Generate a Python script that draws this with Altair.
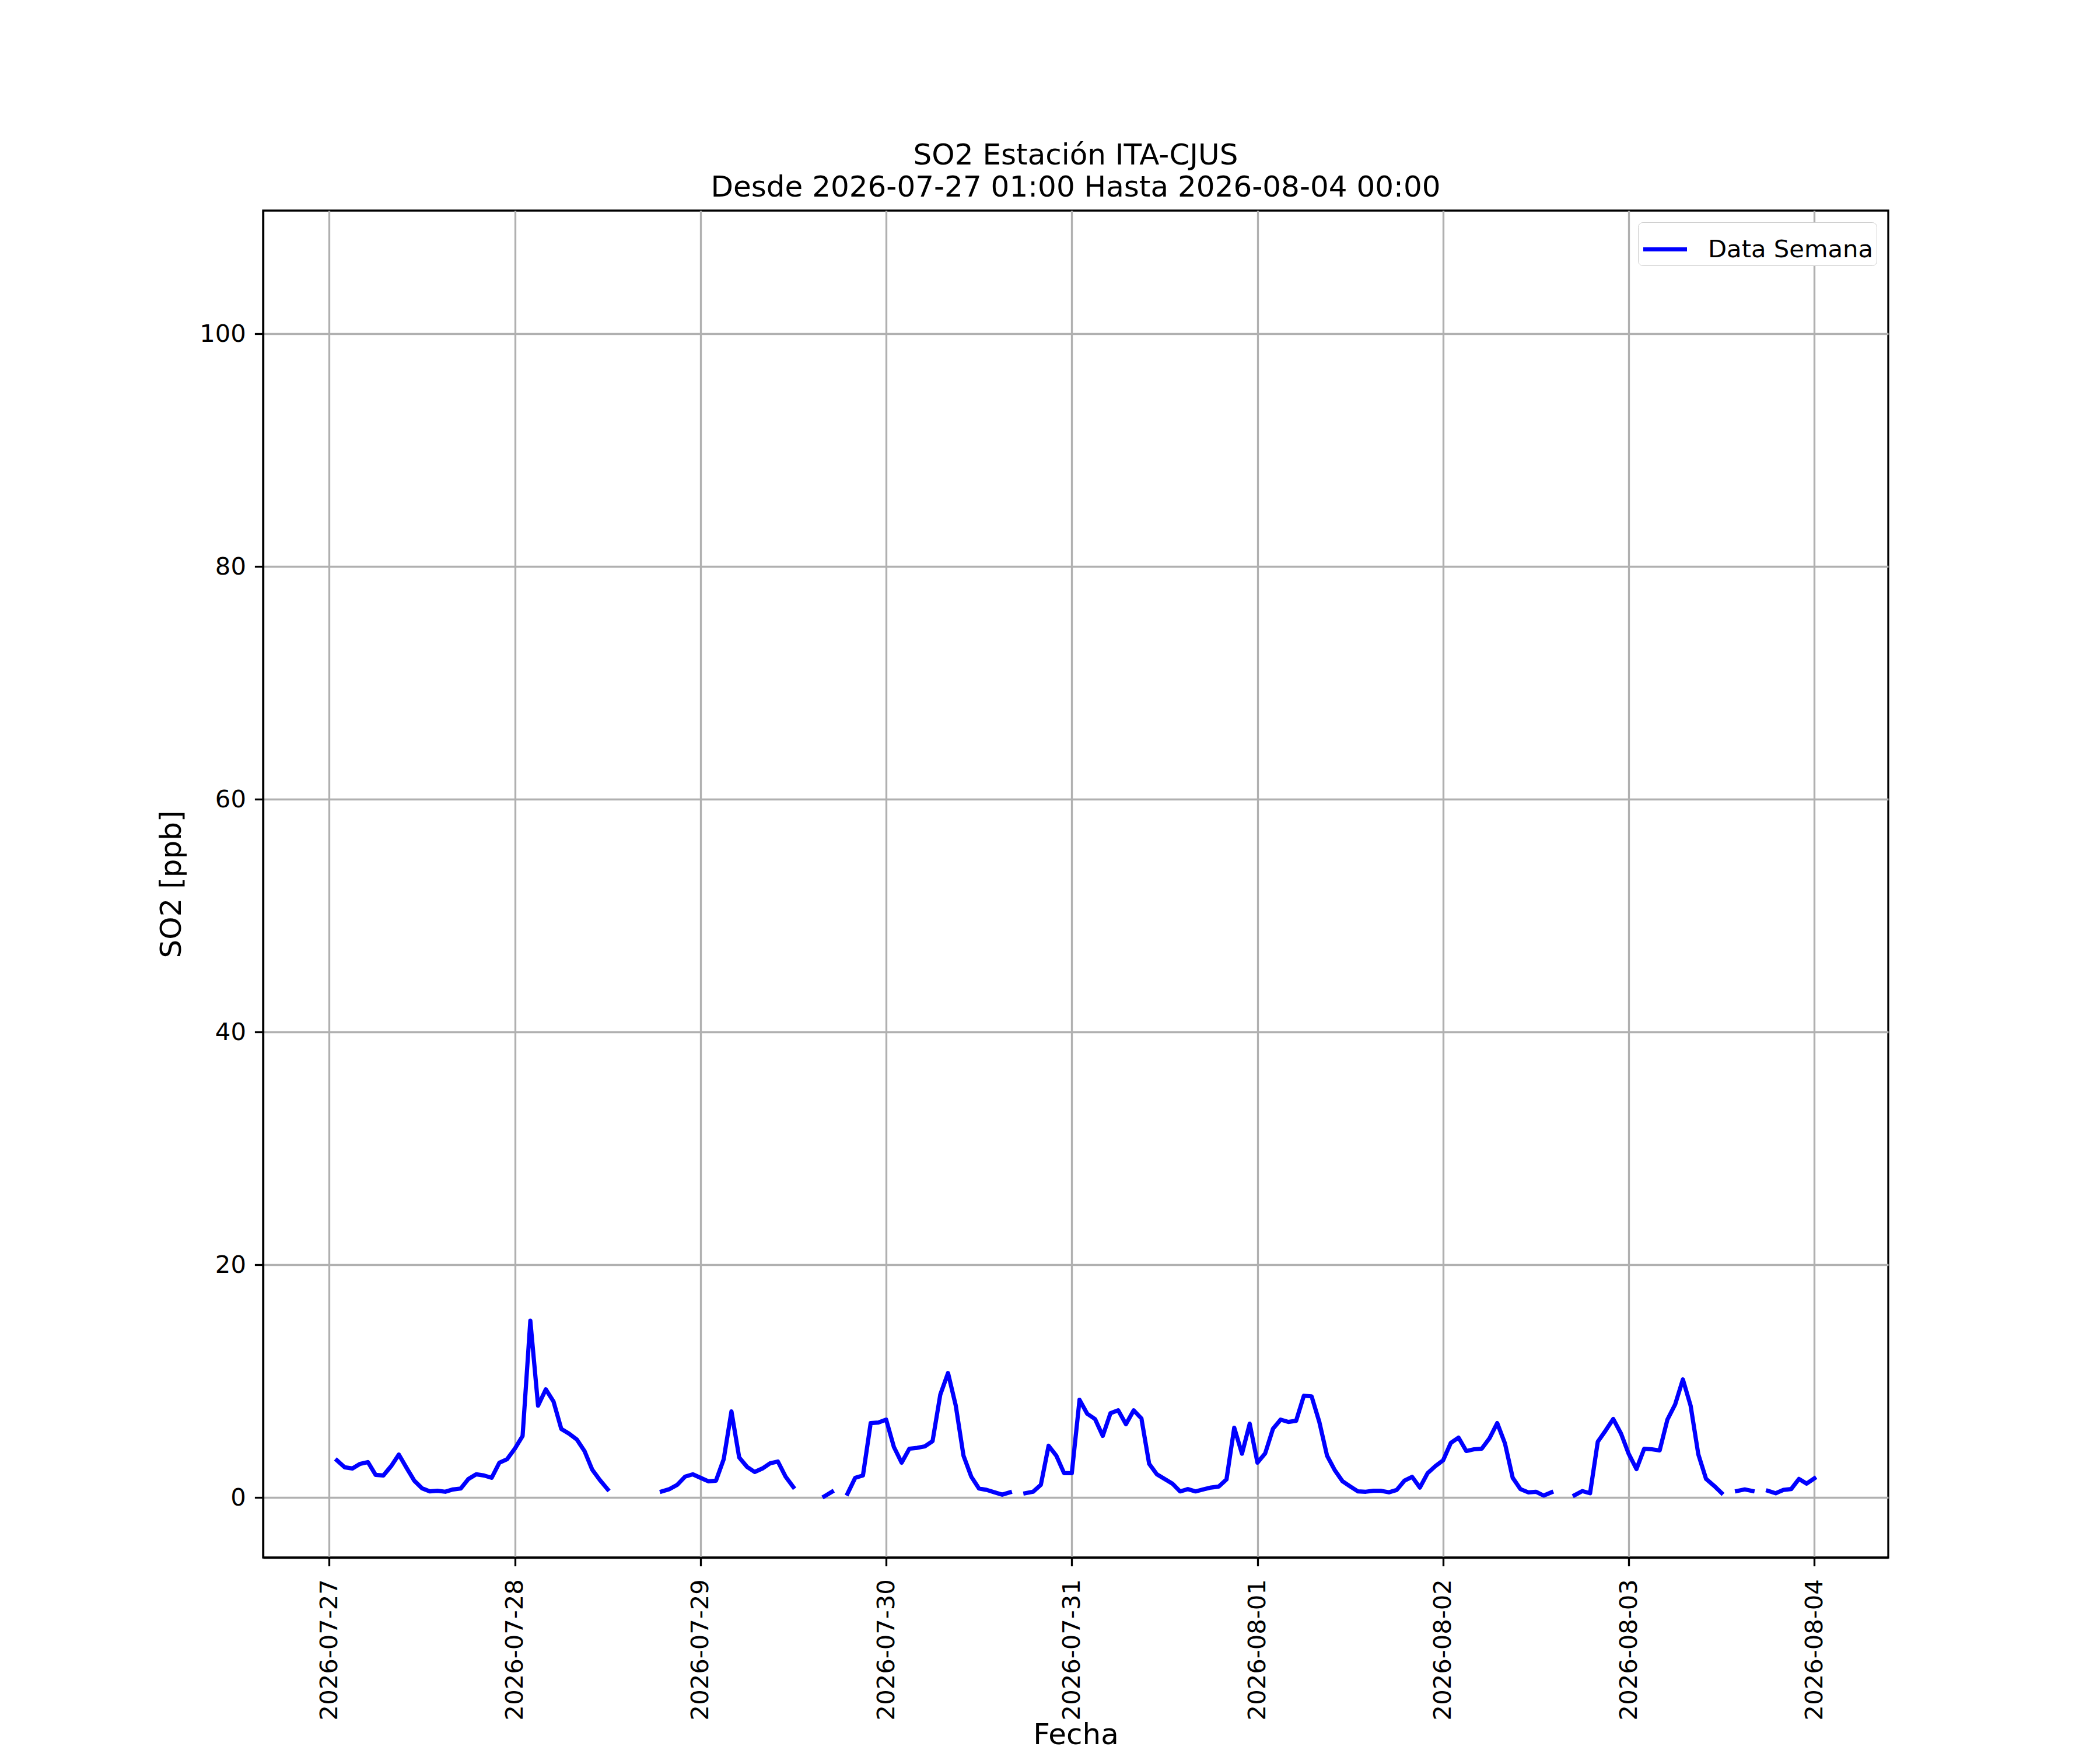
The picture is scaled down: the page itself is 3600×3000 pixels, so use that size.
import altair as alt
import pandas as pd
import numpy as np

# Hourly SO2 values [ppb], 24 per day (01:00 .. 24:00), None = missing
day_0727 = [3.2, 2.6, 2.5, 2.9, 3.05, 1.95, 1.9, 2.7, 3.7, 2.55, 1.45, 0.8,
            0.53, 0.58, 0.5, 0.7, 0.78, 1.6, 2.0, 1.9, 1.7, 3.0, 3.3, 4.2]
day_0728 = [5.3, 15.2, 7.9, 9.3, 8.25, 5.9, 5.5, 5.0, 4.0, 2.4, 1.5, 0.7,
            None, None, None, None, None, None, 0.53, 0.73, 1.1, 1.8, 2.0, 1.7]
day_0729 = [1.4, 1.45, 3.3, 7.4, 3.45, 2.65, 2.2, 2.5, 2.95, 3.1, 1.8, 0.9,
            None, None, None, 0.1, 0.5, None, 0.33, 1.7, 1.9, 6.4, 6.45, 6.7]
day_0730 = [4.35, 3.0, 4.2, 4.27, 4.4, 4.85, 8.85, 10.7, 7.9, 3.6, 1.8, 0.78,
            0.66, 0.45, 0.25, 0.45, None, 0.37, 0.5, 1.1, 4.45, 3.6, 2.1, 2.1]
day_0731 = [8.4, 7.2, 6.75, 5.3, 7.25, 7.5, 6.3, 7.5, 6.8, 2.9, 2.0, 1.6,
            1.2, 0.53, 0.73, 0.53, 0.7, 0.86, 0.95, 1.56, 6.0, 3.77, 6.35, 3.0]
day_0801 = [3.8, 5.9, 6.7, 6.5, 6.6, 8.75, 8.7, 6.5, 3.6, 2.35, 1.4, 0.95,
            0.53, 0.5, 0.58, 0.58, 0.45, 0.65, 1.45, 1.78, 0.86, 2.1, 2.7, 3.2]
day_0802 = [4.7, 5.15, 4.0, 4.15, 4.2, 5.1, 6.4, 4.65, 1.7, 0.73, 0.45, 0.5,
            0.17, 0.45, None, None, 0.2, 0.56, 0.37, 4.8, 5.75, 6.75, 5.5, 3.75]
day_0803 = [2.45, 4.2, 4.15, 4.05, 6.7, 8.0, 10.15, 7.9, 3.7, 1.6, 1.03, 0.4,
            None, 0.56, 0.7, 0.56, None, 0.58, 0.37, 0.66, 0.73, 1.6, 1.2, 1.65]

start_time = "2026-07-27 01:00"
day_ticks = ["2026-07-27", "2026-07-28", "2026-07-29", "2026-07-30", "2026-07-31",
             "2026-08-01", "2026-08-02", "2026-08-03", "2026-08-04"]
y_ticks = [0, 20, 40, 60, 80, 100]
series_name = "Data Semana"
title_lines = ["SO2 Estación ITA-CJUS", "Desde 2026-07-27 01:00 Hasta 2026-08-04 00:00"]

values = (day_0727 + day_0728 + day_0729 + day_0730 + day_0731 +
          day_0801 + day_0802 + day_0803)
times = pd.date_range(start_time, periods=len(values), freq="h")

df = pd.DataFrame({"t": times, "v": pd.array(values, dtype="Float64")})
missing = df["v"].isna()
df["seg"] = missing.cumsum()
df = df[~missing].copy()
df["v"] = df["v"].astype(float)
df["t"] = df["t"].dt.strftime("%Y-%m-%dT%H:%M:%S")
df["serie"] = series_name

FONT = "DejaVu Sans"
tick_vals = [alt.DateTime(year=int(d[:4]), month=int(d[5:7]), date=int(d[8:10])) for d in day_ticks]

PW, PH = 2786, 2309

chart = alt.Chart(df).mark_line(strokeWidth=7.2, strokeCap="square", strokeJoin="round").encode(
    x=alt.X("t:T",
            scale=alt.Scale(domain=[alt.DateTime(year=2026, month=7, date=26, hours=15, minutes=27),
                                    alt.DateTime(year=2026, month=8, date=4, hours=9, minutes=33)],
                            nice=False),
            axis=alt.Axis(values=tick_vals, format="%Y-%m-%d", labelAngle=270,
                          labelAlign="right", labelBaseline="middle",
                          labelFontSize=41.7, labelFont=FONT, labelColor="black",
                          labelPadding=22, labelOverlap=False, labelFlush=False,
                          labelLimit=1000,
                          tickSize=14.6, tickWidth=3.3, tickColor="black",
                          domainColor="black", domainWidth=3.3,
                          grid=True, gridColor="#b0b0b0", gridWidth=3.3,
                          title="Fecha", titleFont=FONT, titleFontSize=50,
                          titleFontWeight="normal", titleColor="black",
                          titleX=PW / 2, titleY=304, titleAlign="center",
                          titleBaseline="middle")),
    y=alt.Y("v:Q",
            scale=alt.Scale(domain=[-5.15, 110.6], nice=False, zero=False),
            axis=alt.Axis(values=y_ticks, labelFontSize=41.7, labelFont=FONT,
                          labelColor="black", labelPadding=15,
                          tickSize=14.6, tickWidth=3.3, tickColor="black",
                          domainColor="black", domainWidth=3.3,
                          grid=True, gridColor="#b0b0b0", gridWidth=3.3,
                          title="SO2 [ppb]", titleFont=FONT, titleFontSize=50,
                          titleFontWeight="normal", titleColor="black",
                          titleX=-157, titleY=PH / 2, titleAngle=270,
                          titleAlign="center", titleBaseline="middle")),
    color=alt.Color("serie:N",
                    scale=alt.Scale(domain=[series_name], range=["#0000ff"]),
                    legend=alt.Legend(title=None, orient="top-right", offset=20,
                                      labelFontSize=41.7, labelFont=FONT, labelColor="black",
                                      labelLimit=1000,
                                      symbolType="stroke", symbolStrokeWidth=7.2,
                                      symbolSize=5625, labelOffset=32, padding=5,
                                      strokeColor="#cccccc", fillColor="white",
                                      cornerRadius=8)),
    detail="seg:Q",
).properties(
    width=PW,
    height=PH,
    title=alt.TitleParams(text=title_lines, font=FONT, fontSize=50, fontWeight="normal",
                          color="black", anchor="middle", lineHeight=55,
                          baseline="bottom", offset=-36),
    padding={"left": 443, "top": 353, "right": 355, "bottom": 330},
    autosize=alt.AutoSizeParams(type="none"),
).configure(
    background="white",
    view=alt.ViewConfig(stroke="black", strokeWidth=3.3),
)

chart.save("out.html", embed_options={"renderer": "svg", "actions": False})
